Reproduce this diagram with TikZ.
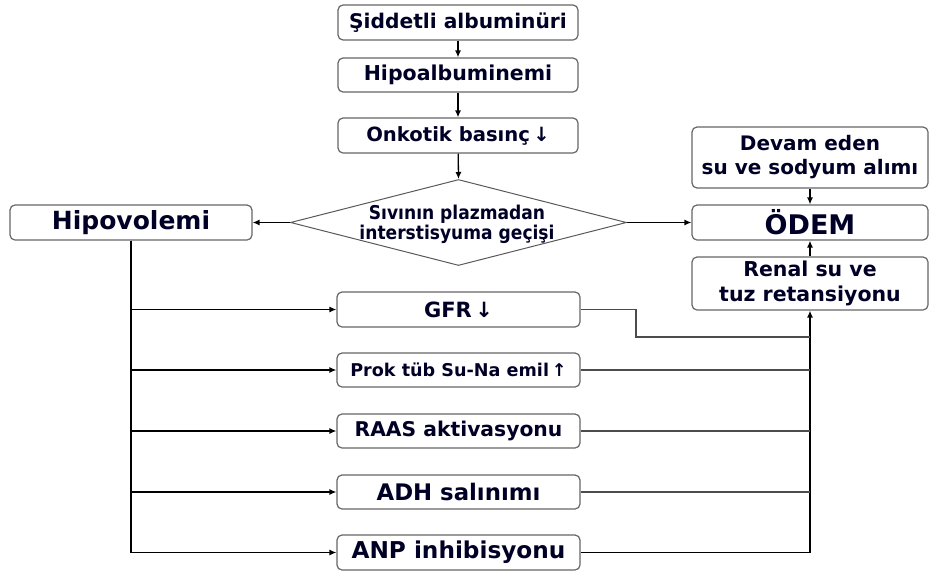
\documentclass[tikz,border=0pt]{standalone}
\usepackage{fontspec}
\setmainfont{DejaVu Sans}
\newfontfamily\condfont{DejaVu Sans Condensed}
\usetikzlibrary{shapes.geometric,arrows.meta}
\newcommand{\fsz}[1]{\bfseries\fontsize{#1}{#1}\selectfont}
\begin{document}
\begin{tikzpicture}[x=1pt,y=-1pt,
  box/.style={draw=black!60,line width=1.2pt,rounded corners=5pt,inner sep=0pt,align=center,font=\fsz{20},text=black!85!blue},
  arr/.style={-{Latex[length=7pt,width=6pt]},line width=1.3pt,black},
  gl/.style={line width=1.3pt,black!70}]
\useasboundingbox (0,0) rectangle (929,574);
% top column
\node[box,minimum width=240pt,minimum height=35pt,font=\fsz{20.2}] (s1) at (458,22.5) {Şiddetli albuminüri};
\node[box,minimum width=240pt,minimum height=34pt,font=\fsz{20.5}] (s2) at (458,75) {Hipoalbuminemi};
\node[box,minimum width=240pt,minimum height=35pt,font=\fsz{19.6}] (s3) at (458,135.5) {Onkotik basınç\,↓};
\node[diamond,draw=black!65,line width=1pt,minimum width=336pt,minimum height=86pt,inner sep=0pt] (d) at (458.5,222.5) {};
\node[align=center,font=\condfont\bfseries\fontsize{19}{20}\selectfont,text=black!85!blue] (dt) at (457,224) {Sıvının plazmadan\\interstisyuma geçişi};
\node[box,minimum width=242pt,minimum height=35pt,font=\fsz{25}] (hipo) at (131,222.5) {Hipovolemi};
% right column
\node[box,minimum width=236pt,minimum height=61pt,font=\bfseries\fontsize{20}{24}\selectfont] (devam) at (810,157.5) {Devam eden\\su ve sodyum alımı};
\node[box,minimum width=236pt,minimum height=35pt,font=\fsz{27}] (odem) at (810,222.5) {ÖDEM};
\node[box,minimum width=236pt,minimum height=53pt,font=\bfseries\fontsize{20.5}{25}\selectfont] (renal) at (810,283.5) {Renal su ve\\tuz retansiyonu};
% middle boxes
\node[box,minimum width=243pt,minimum height=35pt,font=\fsz{21}] (gfr) at (458.5,309.5) {GFR\,↓};
\node[box,minimum width=243pt,minimum height=34pt,font=\fsz{17.6}] (prok) at (458.5,370) {Prok tüb Su-Na emil\,↑};
\node[box,minimum width=243pt,minimum height=34pt,font=\fsz{20.3}] (raas) at (458.5,431) {RAAS aktivasyonu};
\node[box,minimum width=243pt,minimum height=34pt,font=\fsz{22.8}] (adh) at (458.5,492) {ADH salınımı};
\node[box,minimum width=243pt,minimum height=35pt,font=\fsz{23.2}] (anp) at (458.5,552.5) {ANP inhibisyonu};
\coordinate (g1) at (636,337);
% connectors
\draw[arr] (s1) -- (s2);
\draw[arr] (s2) -- (s3);
\draw[arr] (s3) -- (d.north);
\draw[arr] (d.west) -- (hipo.east);
\draw[arr] (d.east) -- (odem.west);
\draw[arr] (devam) -- (odem);
\draw[arr] (renal) -- (odem);
% left trunk
\draw[arr] (hipo.south) |- (anp.west);
\foreach \n in {gfr,prok,raas,adh}{
  \draw[arr] (hipo.south |- \n.west) -- (\n.west);
}
% right trunk
\draw[gl,-{Latex[length=7pt,width=6pt]},black] (anp.east) -| (renal.south);
\foreach \n in {prok,raas,adh}{
  \draw[gl] (\n.east) -- (\n.east -| renal.south);
}
\draw[gl] (gfr.east) -| (g1) -- (g1 -| renal.south);
\end{tikzpicture}
\end{document}
